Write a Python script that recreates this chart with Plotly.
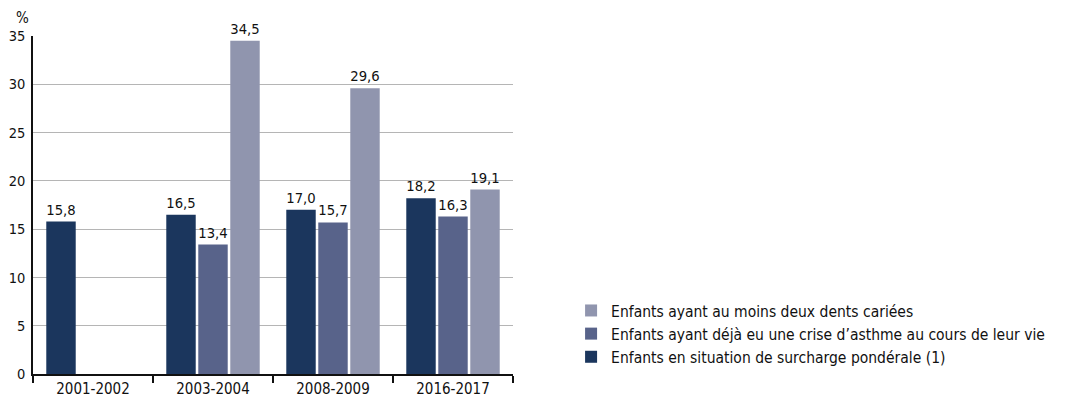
import plotly.graph_objects as go

periods = ["2001-2002", "2003-2004", "2008-2009", "2016-2017"]
surcharge = [15.8, 16.5, 17.0, 18.2]
asthme = [None, 13.4, 15.7, 16.3]
caries = [None, 34.5, 29.6, 19.1]

names = [
    "Enfants en situation de surcharge pondérale (1)",
    "Enfants ayant déjà eu une crise d’asthme au cours de leur vie",
    "Enfants ayant au moins deux dents cariées",
]
colors = ["#1b365d", "#58638a", "#9095ae"]

FONT = "DejaVu Sans Condensed, Liberation Sans Narrow, Roboto, sans-serif"


def fmt(v):
    return "" if v is None else f"{v:.1f}".replace(".", ",")


fig = go.Figure()
for name, vals, col in zip(names, [surcharge, asthme, caries], colors):
    fig.add_trace(go.Bar(
        x=periods, y=vals, name=name,
        marker=dict(color=col, line=dict(width=0)),
        text=[fmt(v) for v in vals],
        textposition="outside",
        textfont=dict(size=15, color="#111111", family=FONT),
        cliponaxis=False,
    ))

# page body has an 8px margin, so the figure is a bit smaller than the window
fig.update_layout(
    width=1057, height=395,
    barmode="group",
    bargap=0.2,
    bargroupgap=0.08,
    plot_bgcolor="white",
    paper_bgcolor="white",
    font=dict(family=FONT, size=15, color="#111111"),
    margin=dict(l=25, r=552, t=28, b=29, autoexpand=False),
    showlegend=True,
    legend=dict(
        x=1.121, y=0.237, xanchor="left", yanchor="top",
        traceorder="reversed",
        font=dict(size=15.5, family=FONT),
        itemwidth=30,
        tracegroupgap=0,
    ),
    xaxis=dict(
        automargin=False,
        showline=True, linecolor="#111111", linewidth=1.5,
        ticks="outside", tickson="boundaries", ticklen=7,
        tickcolor="#111111", tickwidth=1.5,
        tickfont=dict(size=15),
    ),
    yaxis=dict(
        automargin=False,
        range=[0, 35], dtick=5,
        showline=True, linecolor="#111111", linewidth=1.5,
        showgrid=True, gridcolor="#b5b5b5", gridwidth=1,
        zeroline=False,
        tickfont=dict(size=14.5),
        ticks="", ticklabelstandoff=3,
    ),
    annotations=[dict(
        text="%", xref="paper", yref="paper", x=-0.04, y=1.02,
        xanchor="left", yanchor="bottom", showarrow=False,
        font=dict(size=15, family=FONT),
    )],
)

fig.write_html("out.html")
